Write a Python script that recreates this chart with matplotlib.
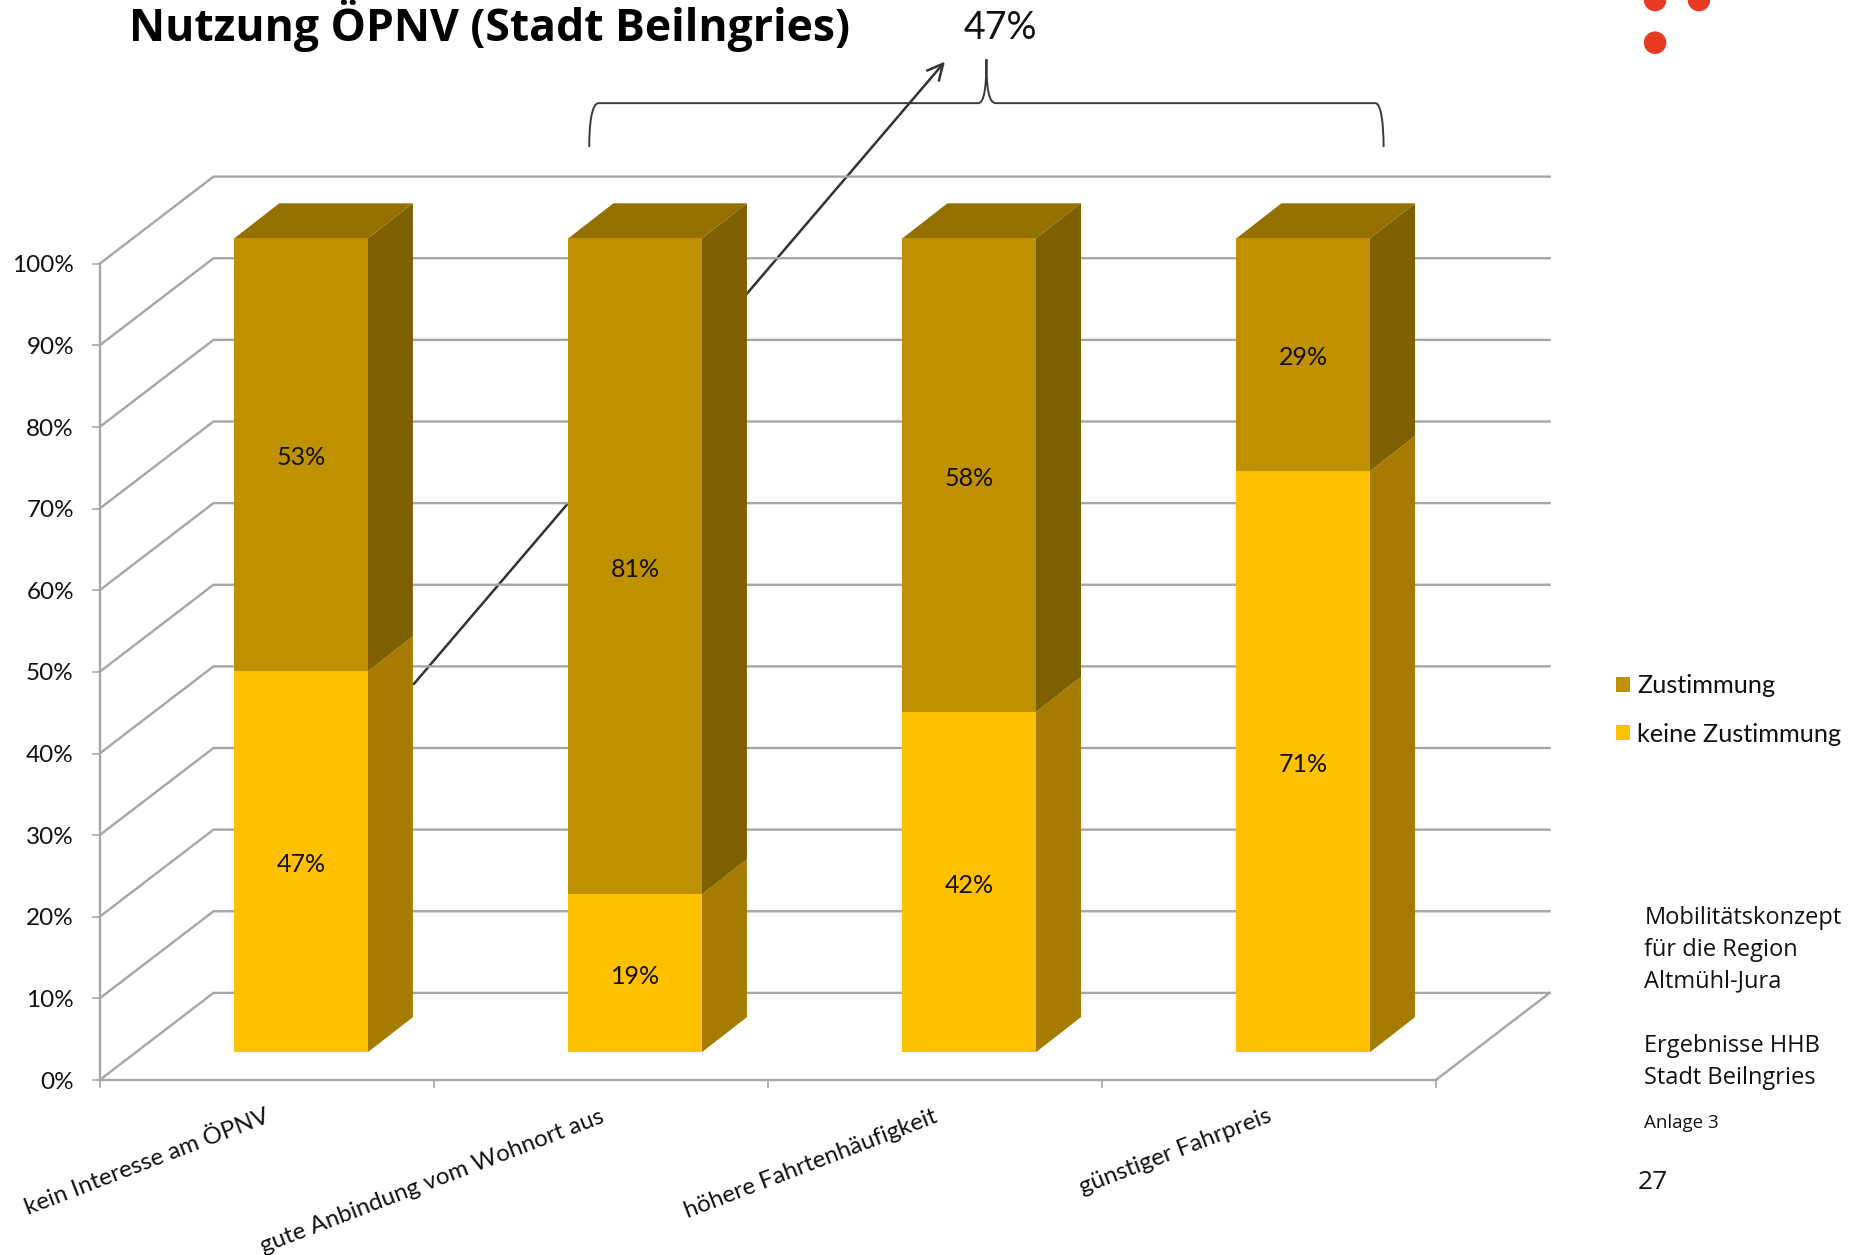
import matplotlib
matplotlib.use('Agg')
import matplotlib.pyplot as plt
from matplotlib.patches import Polygon, Circle, PathPatch
from matplotlib.path import Path
from matplotlib.transforms import ScaledTranslation

plt.rcParams['font.family'] = 'Lato'

# Data (segment heights, labels are these rounded)
categories = ['kein Interesse am ÖPNV', 'gute Anbindung vom Wohnort aus',
              'höhere Fahrtenhäufigkeit', 'günstiger Fahrpreis']
keine_zustimmung = [46.8, 19.4, 41.8, 71.4]
zustimmung = [53.2, 80.6, 58.2, 28.6]
y_ticks = list(range(0, 101, 10))

# Colours
grid_col = '#A6A6A6'
yellow, yellow_side = '#FFC000', '#A67C00'
brown, brown_side, brown_top = '#BF9000', '#7F6000', '#937000'
text_col = '#111111'

W, H = 1859, 1255
S = W / 1568  # measured on the shrunk picture

fig = plt.figure(figsize=(W / 100, H / 100), dpi=100, facecolor='white')

# background layer in pixels, for the slide decoration
deco = fig.add_axes([0, 0, 1, 1], zorder=0)
deco.set_xlim(0, W)
deco.set_ylim(H, 0)
deco.axis('off')

# chart: front plane of the 3D box
left, right, y0, y100 = 84 * S, 1211 * S, 911 * S, 222.5 * S
ax = fig.add_axes([left / W, 1 - y0 / H, (right - left) / W, (y0 - y100) / H], zorder=1)
ax.patch.set_visible(False)
ax.set_xlim(0, 4)
ax.set_ylim(0, 100)

# box depth in data units
wall_dx, wall_dy = 0.341, 10.68
bar_dx, bar_dy = 0.135, 4.3
lift, shift = 3.41, 0.103
bar_w, bar_scale = 0.40, 0.997

for t in y_ticks:
    ax.plot([0, wall_dx, 4 + wall_dx], [t, t + wall_dy, t + wall_dy], color=grid_col, lw=1.7, clip_on=False, zorder=1)
ax.plot([4, 4 + wall_dx], [0, wall_dy], color=grid_col, lw=1.7, clip_on=False, zorder=1)

down = ScaledTranslation(0, -2.2 / 72, fig.dpi_scale_trans)

for i in range(4):
    xc = i + 0.5 + shift
    x0, x1 = xc - bar_w / 2, xc + bar_w / 2
    b = lift
    t = lift + keine_zustimmung[i] * bar_scale
    top = t + zustimmung[i] * bar_scale
    bars_k = ax.bar(xc, t - b, bottom=b, width=bar_w, color=yellow, clip_on=False, zorder=3)
    bars_z = ax.bar(xc, top - t, bottom=t, width=bar_w, color=brown, clip_on=False, zorder=3)
    ax.add_patch(Polygon([(x1, b), (x1 + bar_dx, b + bar_dy), (x1 + bar_dx, t + bar_dy), (x1, t)],
                         color=yellow_side, lw=0, clip_on=False, zorder=2))
    ax.add_patch(Polygon([(x1, t), (x1 + bar_dx, t + bar_dy), (x1 + bar_dx, top + bar_dy), (x1, top)],
                         color=brown_side, lw=0, clip_on=False, zorder=2))
    ax.add_patch(Polygon([(x0, top), (x1, top), (x1 + bar_dx, top + bar_dy), (x0 + bar_dx, top + bar_dy)],
                         color=brown_top, lw=0, clip_on=False, zorder=2))
    ax.text(xc, (b + t) / 2, f'{keine_zustimmung[i]:.0f}%', ha='center', va='center', fontsize=18, color=text_col,
            zorder=4, transform=ax.transData + down)
    ax.text(xc, (t + top) / 2, f'{zustimmung[i]:.0f}%', ha='center', va='center', fontsize=18, color=text_col,
            zorder=4, transform=ax.transData + down)

# axes
for s in ['top', 'right']:
    ax.spines[s].set_visible(False)
for s in ['left', 'bottom']:
    ax.spines[s].set_color(grid_col)
    ax.spines[s].set_linewidth(1.7)
ax.set_yticks(y_ticks)
ax.set_yticklabels([f'{t}%' for t in y_ticks], fontsize=17.5, color=text_col)
for lab in ax.get_yticklabels():
    lab.set_transform(lab.get_transform() + down)
ax.set_xticks(range(5))
ax.set_xticklabels([])
ax.set_xticks([i + 0.495 for i in range(4)], minor=True)
ax.set_xticklabels(categories, minor=True, fontsize=17.4, rotation=21, ha='right',
                   rotation_mode='anchor', color=text_col)
ax.tick_params(axis='x', which='major', length=6, color=grid_col, width=1.2)
ax.tick_params(axis='x', which='minor', length=0, pad=18.5)
ax.tick_params(axis='y', length=6, color=grid_col, width=1.2, pad=12.5)

# legend
ax.legend([bars_z[0], bars_k[0]], ['Zustimmung', 'keine Zustimmung'], frameon=False, fontsize=18.2,
          loc='center left', bbox_to_anchor=(1616 / W, 1 - 710 / H), bbox_transform=fig.transFigure,
          handlelength=0.55, handleheight=0.55, handletextpad=0.3, labelspacing=1.0, borderpad=0, borderaxespad=0,
          labelcolor=text_col)

# bracket and arrow behind the chart
bracket = [(497, 124), (497, 105), (499, 87), (505, 87), (825, 87), (830, 87), (832, 75), (832, 50),
           (832, 75), (834, 87), (840, 87), (1160, 87), (1165, 87), (1167, 105), (1167, 124)]
codes = [Path.MOVETO, Path.CURVE4, Path.CURVE4, Path.CURVE4, Path.LINETO, Path.CURVE4, Path.CURVE4, Path.CURVE4,
         Path.CURVE4, Path.CURVE4, Path.CURVE4, Path.LINETO, Path.CURVE4, Path.CURVE4, Path.CURVE4]
deco.add_patch(PathPatch(Path([(x * S, y * S) for x, y in bracket], codes), fill=False, edgecolor='#3A3A3A', lw=1.4))
deco.annotate('', xy=(797 * S, 52 * S), xytext=(349 * S, 577 * S),
              arrowprops=dict(arrowstyle='->', color='#333333', lw=1.8, mutation_scale=28, shrinkA=0, shrinkB=0))

# slide decoration
for cx, cy in [(1396, 0), (1433, 0), (1396, 36)]:
    deco.add_patch(Circle((cx * S, cy * S), 9.5 * S, color='#E63B23', lw=0))

deco.text(109 * S, 35 * S, 'Nutzung ÖPNV (Stadt Beilngries)', fontsize=32, fontweight='bold', color='black',
          va='baseline', family='Open Sans')
deco.text(843.5 * S, 24 * S, '47%', fontsize=27, color=text_col, ha='center', va='center')

notes = [('Mobilitätskonzept', 774, 17), ('für die Region', 801, 17), ('Altmühl-Jura', 828, 17),
         ('Ergebnisse HHB', 882, 17), ('Stadt Beilngries', 909, 17), ('Anlage 3', 947.5, 13.5)]
for txt, y, size in notes:
    deco.text(1387 * S, y * S, txt, fontsize=size, color=text_col, va='center', family='Open Sans')
deco.text(1381 * S, 997 * S, '27', fontsize=19, color=text_col, va='center', family='Open Sans')

fig.savefig('out.png', dpi=100)
